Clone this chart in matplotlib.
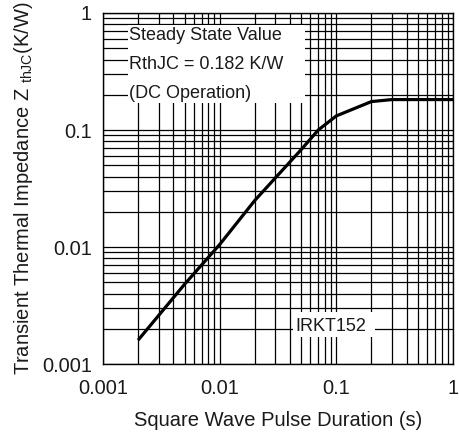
import matplotlib
matplotlib.use("Agg")
import matplotlib.pyplot as plt
from matplotlib.patches import Rectangle
from matplotlib.ticker import LogLocator, FixedLocator, FixedFormatter, NullFormatter

plt.rcParams['font.family'] = ['Liberation Sans', 'DejaVu Sans']
plt.rcParams['mathtext.fontset'] = 'custom'
plt.rcParams['mathtext.rm'] = 'Liberation Sans'
plt.rcParams['mathtext.it'] = 'Liberation Sans'

# Data
pulse_s = [0.002, 0.005, 0.01, 0.02, 0.05, 0.07, 0.1, 0.2, 0.3, 1.0]
zth_kw = [0.0016, 0.0048, 0.0105, 0.025, 0.068, 0.1, 0.132, 0.175, 0.182, 0.182]

x_ticks = [0.001, 0.01, 0.1, 1]
x_tick_labels = ["0.001", "0.01", "0.1", "1"]
y_ticks = [0.001, 0.01, 0.1, 1]
y_tick_labels = ["0.001", "0.01", "0.1", "1"]

note_lines = ["Steady State Value", "RthJC = 0.182 K/W", "(DC Operation)"]
part_label = "IRKT152"

fig = plt.figure(figsize=(4.59, 4.36), dpi=100)
ax = fig.add_axes([103/459, 1-364/436, 350/459, 351/436])

ax.set_xscale('log')
ax.set_yscale('log')
ax.set_xlim(0.001, 1)
ax.set_ylim(0.001, 1)

ax.xaxis.set_major_locator(FixedLocator(x_ticks))
ax.xaxis.set_major_formatter(FixedFormatter(x_tick_labels))
ax.yaxis.set_major_locator(FixedLocator(y_ticks))
ax.yaxis.set_major_formatter(FixedFormatter(y_tick_labels))
ax.xaxis.set_minor_locator(LogLocator(base=10, subs=range(2, 10)))
ax.yaxis.set_minor_locator(LogLocator(base=10, subs=range(2, 10)))
ax.xaxis.set_minor_formatter(NullFormatter())
ax.yaxis.set_minor_formatter(NullFormatter())

ax.tick_params(which='both', length=0, labelsize=14.4, colors='#1a1a1a')
ax.tick_params(axis='x', pad=11)
ax.tick_params(axis='y', pad=8)

ax.set_axisbelow(True)
ax.grid(True, which='both', color='black', linewidth=0.9)
for s in ax.spines.values():
    s.set_color('black')
    s.set_linewidth(1.0)

ax.plot(pulse_s, zth_kw, color='black', linewidth=2.3, zorder=3,
        solid_capstyle='butt')

# white boxes behind annotation texts
ax.add_patch(Rectangle((0.071, 0.744), 0.506, 0.222, transform=ax.transAxes,
                       facecolor='white', edgecolor='none', zorder=1))
ax.add_patch(Rectangle((0.543, 0.077), 0.234, 0.071, transform=ax.transAxes,
                       facecolor='white', edgecolor='none', zorder=1))

for i, t in enumerate(note_lines):
    ax.text(0.074, 0.935 - i*0.082, t, transform=ax.transAxes, fontsize=13,
            ha='left', va='center', zorder=4, color='#1a1a1a')
ax.text(0.549, 0.107, part_label, transform=ax.transAxes, fontsize=13,
        ha='left', va='center', zorder=4, color='#1a1a1a')

ax.set_xlabel("Square Wave Pulse Duration (s)", fontsize=14.5, color='#1a1a1a')
ax.xaxis.set_label_coords(0.5, -0.135)
ax.set_ylabel(r"Transient Thermal Impedance Z $_{\mathrm{thJC}}$(K/W)", fontsize=14.5,
              color='#1a1a1a')
ax.yaxis.set_label_coords(-0.195, 0.5)

fig.savefig("out.png", dpi=100)
